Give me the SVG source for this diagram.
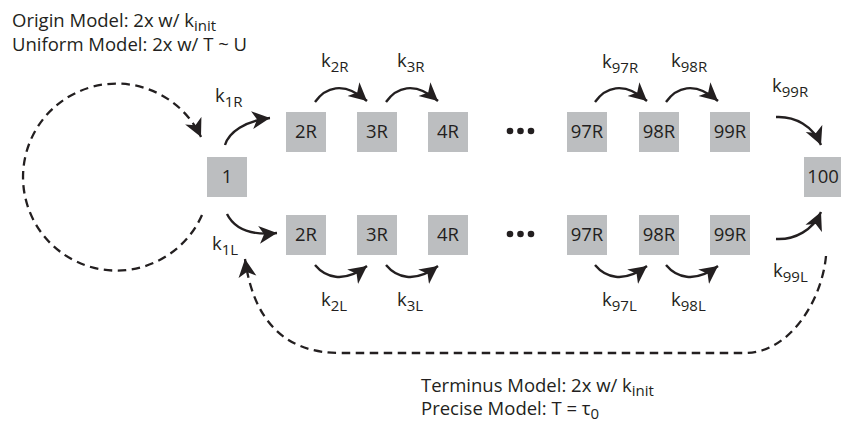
<svg xmlns="http://www.w3.org/2000/svg" width="841" height="424" viewBox="0 0 841 424">
<style>
  text { font-family: "Open Sans", "Liberation Sans", sans-serif; fill: #231f20; font-size: 18.5px; }
  .box { fill: #bcbec0; }
  .nt { text-anchor: middle; }
  .sub { font-size: 15px; }
  .arr { fill: none; stroke: #231f20; stroke-width: 2.4; }
  .dash { fill: none; stroke: #231f20; stroke-width: 2.3; stroke-dasharray: 8.5 5.5; }
  .dot { fill: #231f20; }
</style>
<defs>
  <marker id="ah" markerUnits="userSpaceOnUse" viewBox="0 -10 20 20" refX="18" refY="0" markerWidth="20" markerHeight="20" orient="auto">
    <path d="M0,-9 L18,0 L0,9 L5,0 Z" fill="#231f20"/>
  </marker>
</defs>

<g id="header">
  <text x="12" y="27">Origin Model: 2x w/ k<tspan class="sub" dy="4">init</tspan></text>
  <text x="12" y="51">Uniform Model: 2x w/ T ~ U</text>
  <text x="421" y="392">Terminus Model: 2x w/ k<tspan class="sub" dy="4">init</tspan></text>
  <text x="421" y="415">Precise Model: T = τ<tspan class="sub" dy="4">0</tspan></text>
</g>

<g id="connectors">
  <path class="dash" d="M202 215 A93.5 93.5 0 1 1 201 137" marker-end="url(#ah)"/>
  <path class="dash" d="M826 256 C822 300 790 353 745 353 L340 353 Q258 353 245 259" marker-end="url(#ah)"/>
  <path class="arr" d="M225 145 C229 132 245 121 270 118" marker-end="url(#ah)"/>
  <path class="arr" d="M227 214 C234 228 248 236 277 233" marker-end="url(#ah)"/>
  <path class="arr" d="M315 102 C325 88 343 80 367 101" marker-end="url(#ah)"/>
  <path class="arr" d="M386 102 C396 88 414 80 438 101" marker-end="url(#ah)"/>
  <path class="arr" d="M595 102 C605 88 623 80 647 101" marker-end="url(#ah)"/>
  <path class="arr" d="M666 102 C676 88 694 80 718 101" marker-end="url(#ah)"/>
  <path class="arr" d="M315 265 C325 277 343 284 367 266" marker-end="url(#ah)"/>
  <path class="arr" d="M386 265 C396 277 414 284 438 266" marker-end="url(#ah)"/>
  <path class="arr" d="M595 265 C605 277 623 284 647 266" marker-end="url(#ah)"/>
  <path class="arr" d="M666 265 C676 277 694 284 718 266" marker-end="url(#ah)"/>
  <path class="arr" d="M776 117 C795 116 813 126 821 145" marker-end="url(#ah)"/>
  <path class="arr" d="M776 239 C795 240 813 230 821 212" marker-end="url(#ah)"/>
</g>

<g id="rate-labels">
  <text x="215" y="102">k<tspan class="sub" dy="5">1R</tspan></text>
  <text x="212" y="250">k<tspan class="sub" dy="5">1L</tspan></text>
  <text x="321" y="67">k<tspan class="sub" dy="5">2R</tspan></text>
  <text x="397" y="67">k<tspan class="sub" dy="5">3R</tspan></text>
  <text x="602" y="68">k<tspan class="sub" dy="5">97R</tspan></text>
  <text x="671" y="67">k<tspan class="sub" dy="5">98R</tspan></text>
  <text x="772" y="92">k<tspan class="sub" dy="5">99R</tspan></text>
  <text x="321" y="306">k<tspan class="sub" dy="5">2L</tspan></text>
  <text x="397" y="306">k<tspan class="sub" dy="5">3L</tspan></text>
  <text x="602" y="306">k<tspan class="sub" dy="5">97L</tspan></text>
  <text x="671" y="306">k<tspan class="sub" dy="5">98L</tspan></text>
  <text x="773" y="277">k<tspan class="sub" dy="5">99L</tspan></text>
</g>

<g id="n1"><rect class="box" x="207" y="157" width="40" height="40"/><text class="nt" x="227" y="183">1</text></g>
<g id="n100"><rect class="box" x="804" y="157" width="40" height="40"/><text class="nt" x="823" y="183">100</text></g>

<g id="r2"><rect class="box" x="286" y="112" width="40" height="40"/><text class="nt" x="306" y="138">2R</text></g>
<g id="r3"><rect class="box" x="357" y="112" width="40" height="40"/><text class="nt" x="377" y="138">3R</text></g>
<g id="r4"><rect class="box" x="428" y="112" width="40" height="40"/><text class="nt" x="448" y="138">4R</text></g>
<g id="r97"><rect class="box" x="567" y="112" width="40" height="40"/><text class="nt" x="587" y="138">97R</text></g>
<g id="r98"><rect class="box" x="639" y="112" width="40" height="40"/><text class="nt" x="659" y="138">98R</text></g>
<g id="r99"><rect class="box" x="710" y="112" width="40" height="40"/><text class="nt" x="730" y="138">99R</text></g>

<g id="l2"><rect class="box" x="286" y="215" width="40" height="40"/><text class="nt" x="306" y="241">2R</text></g>
<g id="l3"><rect class="box" x="357" y="215" width="40" height="40"/><text class="nt" x="377" y="241">3R</text></g>
<g id="l4"><rect class="box" x="428" y="215" width="40" height="40"/><text class="nt" x="448" y="241">4R</text></g>
<g id="l97"><rect class="box" x="567" y="215" width="40" height="40"/><text class="nt" x="587" y="241">97R</text></g>
<g id="l98"><rect class="box" x="639" y="215" width="40" height="40"/><text class="nt" x="659" y="241">98R</text></g>
<g id="l99"><rect class="box" x="710" y="215" width="40" height="40"/><text class="nt" x="730" y="241">99R</text></g>

<g id="ellipsis-top"><circle class="dot" cx="510" cy="131" r="3.3"/><circle class="dot" cx="520.5" cy="131" r="3.3"/><circle class="dot" cx="531" cy="131" r="3.3"/></g>
<g id="ellipsis-bottom"><circle class="dot" cx="510" cy="234" r="3.3"/><circle class="dot" cx="520.5" cy="234" r="3.3"/><circle class="dot" cx="531" cy="234" r="3.3"/></g>
</svg>
